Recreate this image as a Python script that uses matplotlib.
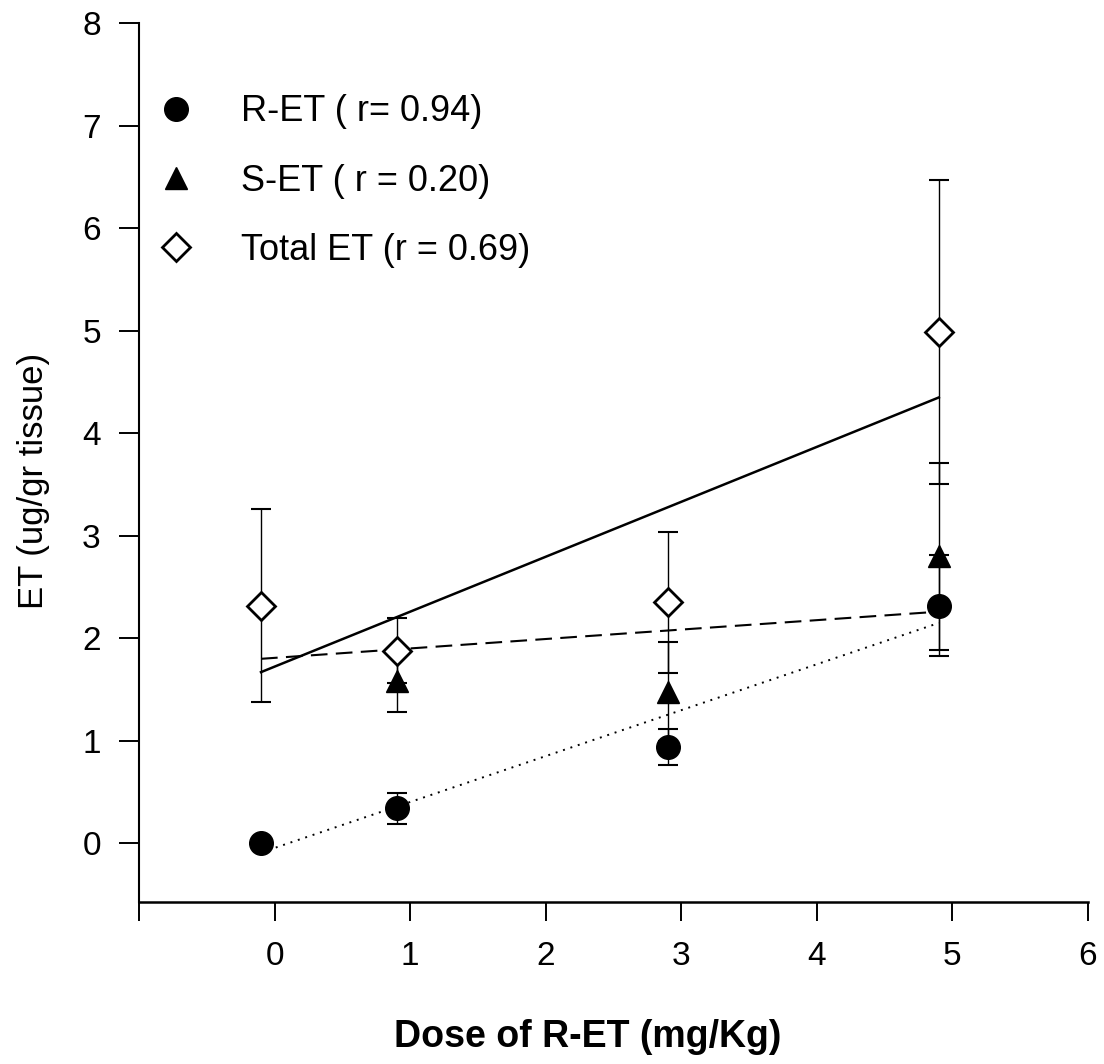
import matplotlib
matplotlib.use('Agg')
import matplotlib.pyplot as plt
import numpy as np

plt.rcParams['font.family'] = ['Liberation Sans', 'DejaVu Sans']

# dose groups (slightly offset to the left as in the original plot)
dose = [-0.1, 0.9, 2.9, 4.9]
dose_s = [0.9, 2.9, 4.9]

# R-ET
r_et = [0.0, 0.34, 0.94, 2.32]
r_err = [0.0, 0.15, 0.18, 0.49]

# S-ET (not detected in the control group)
s_et = [1.58, 1.48, 2.80]
s_err = [0.30, 0.48, 0.91]

# Total ET
tot_et = [2.32, 1.88, 2.35, 4.99]
tot_err = [0.945, 0.315, 0.69, 1.48]

# regression line end points
fit_x = [-0.1, 4.9]
r_fit = [-0.09, 2.15]
s_fit = [1.80, 2.26]
tot_fit = [1.67, 4.35]

labels = ['R-ET ( r= 0.94)', 'S-ET ( r = 0.20)', 'Total ET (r = 0.69)']

fig = plt.figure(figsize=(11.04, 10.64), dpi=100)
ax = fig.add_axes([0.1259, 0.1525, 0.8596, 0.8256])

# regression lines
ax.plot(fit_x, r_fit, color='black', linestyle=(0, (1, 3)), linewidth=1.4, zorder=2)
ax.plot(fit_x, s_fit, color='black', linestyle=(0, (8, 4)), linewidth=1.5, zorder=2)
ax.plot(fit_x, tot_fit, color='black', linestyle='-', linewidth=1.8, zorder=2)

# error bars
eb = dict(fmt='none', ecolor='black', elinewidth=1.0, capsize=7, capthick=1.5, zorder=3)
ax.errorbar(dose, tot_et, yerr=tot_err, **eb)
ax.errorbar(dose_s, s_et, yerr=s_err, **eb)
ax.errorbar(dose[1:], r_et[1:], yerr=r_err[1:], **eb)

# markers
h1, = ax.plot(dose, r_et, 'o', color='black', markersize=17, linestyle='none',
              zorder=5, label=labels[0])
h2, = ax.plot(dose_s, s_et, '^', color='black', markersize=16, linestyle='none',
              zorder=5, label=labels[1])
h3, = ax.plot(dose, tot_et, 'D', markerfacecolor='white', markeredgecolor='black',
              markeredgewidth=2.0, markersize=14.5, linestyle='none', zorder=6,
              label=labels[2])

ax.legend(handles=[h1, h2, h3], loc='upper left', bbox_to_anchor=(0.0196, 0.919),
          frameon=False, fontsize=26, handlelength=1.0, handletextpad=1.3,
          labelspacing=0.95, borderpad=0, borderaxespad=0)

# axes
ax.set_xlim(-1, 6)
ax.set_ylim(-0.57, 8)
ax.set_xticks(range(-1, 7))
ax.set_xticklabels([''] + [str(i) for i in range(0, 7)])
ax.set_yticks(range(0, 9))
ax.spines['top'].set_visible(False)
ax.spines['right'].set_visible(False)
ax.spines['left'].set_linewidth(1.5)
ax.spines['bottom'].set_linewidth(1.8)
ax.tick_params(axis='y', direction='out', length=14.5, width=1.4, pad=13, labelsize=24)
ax.tick_params(axis='x', direction='out', length=14, width=1.4, pad=14, labelsize=24)

fig.text(34 / 1104, 1 - 481 / 1064, 'ET (ug/gr tissue)', rotation=90,
         ha='center', va='center', fontsize=25)
fig.text(588 / 1104, 1 - 1037 / 1064, 'Dose of R-ET (mg/Kg)',
         ha='center', va='center', fontsize=27, fontweight='bold')

plt.savefig('out.png', dpi=100)
